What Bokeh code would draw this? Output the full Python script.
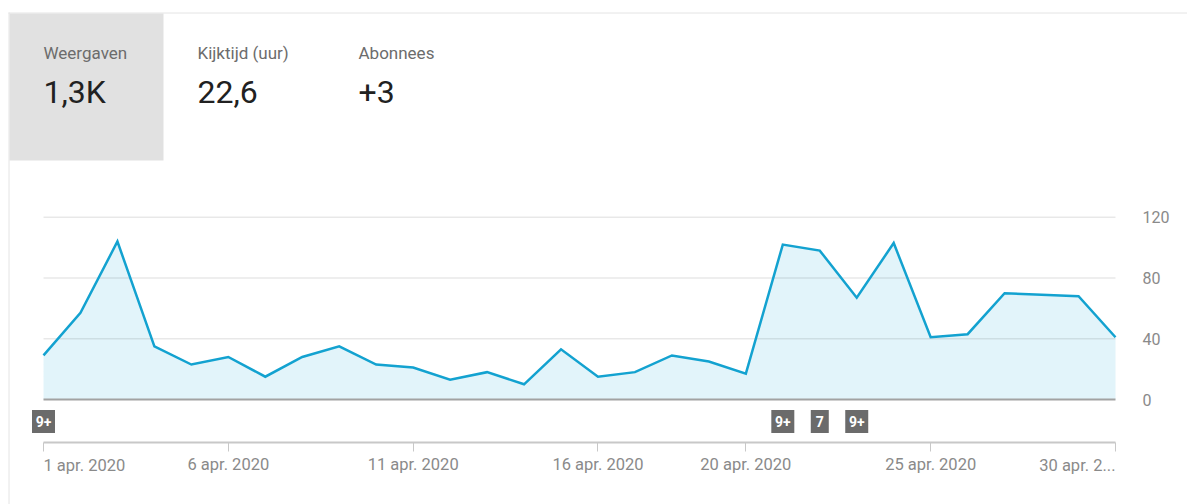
from bokeh.plotting import figure
from bokeh.models import Range1d, FixedTicker, LinearAxis
from bokeh.embed import file_html
from bokeh.resources import INLINE
from bokeh.core.properties import value

# ---- data ----
days = list(range(1, 31))
views = [29, 57, 104, 35, 23, 28, 15, 28, 35, 23,
         21, 13, 18, 10, 33, 15, 18, 29, 25, 17,
         102, 98, 67, 103, 41, 43, 70, 69, 68, 41]
tick_days = [1, 6, 11, 16, 20, 25, 30]
tick_labels = ["1 apr. 2020", "6 apr. 2020", "11 apr. 2020", "16 apr. 2020",
               "20 apr. 2020", "25 apr. 2020", "30 apr. 2..."]
y_ticks = [0, 40, 80, 120]
grid_vals = [40, 80, 120]
badge_days = [1, 21, 22, 23]
badge_labels = ["9+", "9+", "7", "9+"]
metric_names = ["Weergaven", "Kijktijd (uur)", "Abonnees"]
metric_values = ["1,3K", "22,6", "+3"]

FONT = value("Roboto")
W, H = 1187, 504

# pixel layout of the plot area (page coordinates)
PX_LEFT, PX_RIGHT = 43, 1115      # first / last day
PY_ZERO, PY_TOP = 399, 216.7      # value 0 / value 120
ppx = (PX_RIGHT - PX_LEFT) / (days[-1] - days[0])
ppy = (PY_ZERO - PY_TOP) / y_ticks[-1]
x_start = days[0] - PX_LEFT / ppx
x_end = x_start + W / ppx
y_end = PY_ZERO / ppy
y_start = y_end - H / ppy


def X(px):
    return x_start + px / ppx


def Y(py):
    return y_end - py / ppy


p = figure(width=W, height=H, x_range=Range1d(x_start, x_end), y_range=Range1d(y_start, y_end),
           output_backend="svg", toolbar_location=None, x_axis_type=None, y_axis_type=None,
           min_border=0)
p.grid.visible = False
p.outline_line_color = None

# ---- card border and metric tabs ----
p.segment(x0=[X(8)], y0=[Y(12.5)], x1=[X(W)], y1=[Y(12.5)], line_color="#e4e4e4", line_width=1)
p.segment(x0=[X(8.5)], y0=[Y(12)], x1=[X(8.5)], y1=[Y(H)], line_color="#e4e4e4", line_width=1)
p.quad(left=[X(9)], right=[X(163)], top=[Y(13)], bottom=[Y(160)], fill_color="#e1e1e1", line_color=None)
metric_x = [X(43), X(197), X(358)]
p.text(x=metric_x, y=[Y(52)] * 3, text=metric_names, text_font=FONT, text_font_size="17px",
       text_color="#6c6c6c", text_baseline="alphabetic", text_align="left")
p.text(x=metric_x, y=[Y(91.5)] * 3, text=metric_values, text_font=FONT, text_font_size="32px",
       text_color="#212121", text_baseline="alphabetic", text_align="left")

# ---- series ----
p.varea(x=days, y1=[0] * len(days), y2=views, fill_color="#e2f4fa")
p.segment(x0=[days[0]] * len(grid_vals), x1=[days[-1]] * len(grid_vals), y0=grid_vals, y1=grid_vals,
          line_color="black", line_alpha=0.09, line_width=1.5)
p.segment(x0=[days[0]], x1=[days[-1]], y0=[0], y1=[0], line_color="#a2a2a2", line_width=2)
p.line(days, views, line_color="#13a2d0", line_width=2.5, line_join="miter")

# ---- y axis (right of last day) ----
ya = LinearAxis(ticker=FixedTicker(ticks=y_ticks), fixed_location=days[-1], bounds=(0, 120))
ya.axis_line_color = None
ya.major_tick_line_color = None
ya.minor_tick_line_color = None
ya.major_tick_in = 0
ya.major_tick_out = 0
ya.major_label_standoff = 27
ya.major_label_text_font = "Roboto"
ya.major_label_text_font_size = "16px"
ya.major_label_text_color = "#8a8a8a"
p.add_layout(ya, "right")

# ---- x axis ----
xa = LinearAxis(ticker=FixedTicker(ticks=tick_days), fixed_location=Y(441.5),
                bounds=(days[0], days[-1]))
overrides = {d: lab for d, lab in zip(tick_days, tick_labels)}
overrides[tick_days[0]] = ""
overrides[tick_days[-1]] = ""
xa.major_label_overrides = overrides
xa.axis_line_color = "#c8c8c8"
xa.axis_line_width = 2
xa.major_tick_line_color = "#c8c8c8"
xa.major_tick_line_width = 1
xa.major_tick_in = 0
xa.major_tick_out = 9
xa.minor_tick_line_color = None
xa.major_label_standoff = 4
xa.major_label_text_font = "Roboto"
xa.major_label_text_font_size = "16.5px"
xa.major_label_text_color = "#8a8a8a"
p.add_layout(xa, "below")

# first / last tick labels aligned to the plot edges
p.text(x=[tick_days[0], tick_days[-1]], y=[Y(465)] * 2, text=[tick_labels[0], tick_labels[-1]],
       text_align=["left", "right"], text_baseline="middle", text_font=FONT,
       text_font_size="16.5px", text_color="#8a8a8a")

# ---- note badges ----
bw = [23 if len(t) > 1 else 18 for t in badge_labels]
p.rect(x=badge_days, y=[Y(421)] * len(badge_days), width=bw, height=[23] * len(badge_days),
       width_units="screen", height_units="screen", fill_color="#6b6b6b", line_color=None)
p.text(x=badge_days, y=[Y(421)] * len(badge_days), text=badge_labels, text_align="center",
       text_baseline="middle", text_color="white", text_font=FONT, text_font_style="bold",
       text_font_size="14px")

open("out.html", "w").write(file_html(p, INLINE))
